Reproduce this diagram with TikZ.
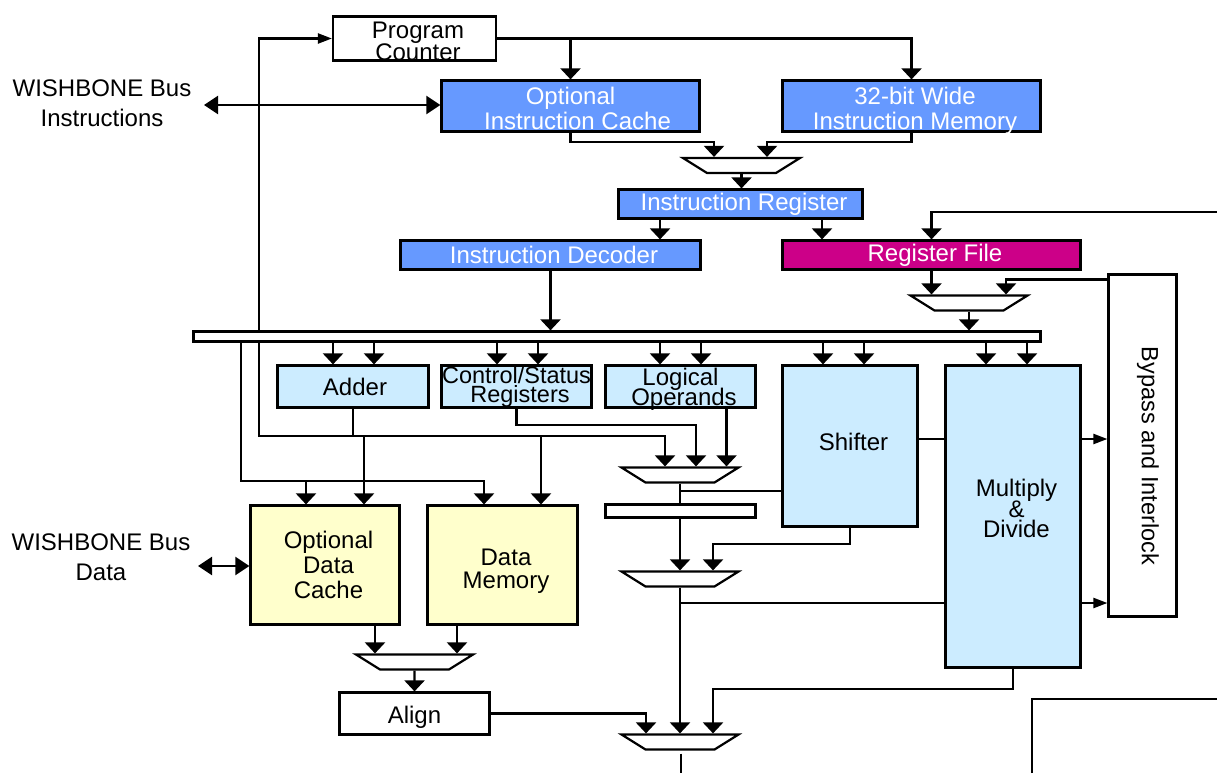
\documentclass[tikz,border=0pt]{standalone}
\usepackage{fontspec}
\setmainfont{Liberation Sans}
\usetikzlibrary{arrows.meta,shapes.geometric}
\definecolor{colBlue}{HTML}{6699FF}
\definecolor{colPink}{HTML}{CC0088}
\definecolor{colSky}{HTML}{CCECFF}
\definecolor{colCream}{HTML}{FFFFCC}
\newcommand{\labelfont}[2][24]{\fontsize{#1}{#2}\selectfont\lineskiplimit=-50pt}
% small nudges of a text inside its box
\newcommand{\rt}{\hspace*{7pt}}
\newcommand{\dn}[1]{\rule{0pt}{#1}}
\newcommand{\upby}[1]{\rule[-#1]{0pt}{#1}}
\tikzset{
  block/.style={draw,line width=2.2pt,rectangle,inner sep=0pt,align=center,font=\labelfont{25}},
  hotblock/.style={block,fill=colBlue,text=white},
  unitblock/.style={block,fill=colSky},
  memblock/.style={block,fill=colCream},
  muxer/.style={draw,line width=2.2pt,fill=white,trapezium,shape border rotate=180,
    trapezium angle=32,inner sep=0pt,text width=69pt,text height=15pt,text depth=0pt},
  wire/.style={line width=2.2pt},
  arrow/.style={wire,-{Triangle[width=20pt,length=11pt]}},
  smallarrow/.style={wire,-{Triangle[width=10pt,length=14pt]}},
  twoway/.style={wire,{Triangle[width=18pt,length=14pt]}-{Triangle[width=18pt,length=14pt]}},
  caption/.style={align=center,inner sep=0pt,font=\labelfont{30}},
}
\begin{document}
\begin{tikzpicture}[x=1pt,y=-1pt]
  \useasboundingbox (0,0) rectangle (1217,773);

  % fetch stage
  \node[block,minimum width=163,minimum height=44,font=\labelfont{22}] (pc) at (414.5,38.5) {\dn{21.5pt}\rt Program\\\rt Counter};
  \node[hotblock,minimum width=258,minimum height=51] (icache) at (570.5,106) {\dn{22.5pt}Optional\\\rt\rt Instruction Cache};
  \node[hotblock,minimum width=258,minimum height=51] (imem) at (911.5,106) {\dn{22.5pt}\rt 32-bit Wide\\\rt\smash{Instruction Memory}};
  \node[muxer] (mux1) at (741.5,165.5) {};
  \node[hotblock,minimum width=244,minimum height=29] (ir) at (740.5,204) {\rt Instruction Register};

  % decode stage
  \node[hotblock,minimum width=300,minimum height=29] (decoder) at (550.5,255) {\rt Instruction Decoder};
  \node[block,fill=colPink,text=white,minimum width=298,minimum height=29] (regfile) at (931.5,255) {\rt Register File};
  \node[muxer] (mux2) at (969,303) {};
  \node[block,minimum width=847,minimum height=10] (bus) at (617,336.5) {};

  % execute stage
  \node[unitblock,minimum width=151,minimum height=42] (adder) at (353,386.5) {\hspace*{4pt}Adder};
  \node[unitblock,minimum width=150,minimum height=42,font={\labelfont[23.5]{19}}] (csr) at (516.5,386.5) {Control/Status\\\rt Registers};
  \node[unitblock,minimum width=150,minimum height=42,font=\labelfont{20}] (logic) at (680.5,386.5) {Logical\\\rt\smash{Operands}};
  \node[unitblock,minimum width=135,minimum height=161] (shifter) at (850,446) {\rt Shifter\upby{8pt}};
  \node[unitblock,minimum width=135,minimum height=302,font=\labelfont{20.5}] (mult) at (1013,516.5) {\rt Multiply\\\rt \&\\\rt Divide\upby{16pt}};
  \node[block,minimum width=68,minimum height=342] (bypass) at (1142.5,445.5) {};
  \node[rotate=-90,inner sep=0pt,font={\labelfont[23.5]{25}}] (bypasstext) at (1148,456) {Bypass and Interlock};

  % memory stage
  \node[memblock,minimum width=149,minimum height=119] (dcache) at (325,565) {\rt Optional\\\rt Data\\\rt Cache};
  \node[memblock,minimum width=150,minimum height=119,font=\labelfont{23}] (dmem) at (502.5,565) {\dn{29.5pt}\rt Data\\\rt Memory};
  \node[muxer] (mux3) at (414.5,662) {};
  \node[block,minimum width=150,minimum height=42] (align) at (414.5,713.5) {\dn{25.5pt}Align};

  % result muxes
  \node[muxer] (mux4) at (680,475) {};
  \node[block,minimum width=150,minimum height=13] (latch) at (680.5,511) {};
  \node[muxer] (mux5) at (680,579) {};
  \node[muxer] (mux6) at (680,742) {};

  % outside labels
  \node[caption] (wbi) at (102,103) {WISHBONE Bus\\Instructions};
  \node[caption] (wbd) at (101,557) {WISHBONE Bus\\Data};

  % free ends
  \coordinate (wbiend) at (204,105);
  \coordinate (wbdend) at (198,566);
  \coordinate (regin) at (1217,212);
  \coordinate (resout) at (681,773);
  \coordinate (feedback) at (259,436);
  \coordinate (dataline) at (241,481);
  \coordinate (cornerA) at (1032,773);
  \coordinate (cornerB) at (1217,699);

  % program counter and instruction fetch
  \draw[arrow] (pc.east) -| (imem.north);
  \draw[arrow] (pc.east) -| (icache.north);
  \draw[smallarrow] (feedback |- bus.north) |- (pc.west);
  \draw[twoway] (wbiend) -- (wbiend -| icache.west);
  \draw[arrow] (icache.south) -- ++(0,9) -| ([xshift=-27.5pt]mux1.north);
  \draw[arrow] (imem.south) -- ++(0,9) -| ([xshift=25.5pt]mux1.north);
  \draw[arrow] (mux1.south) -- (mux1.south |- ir.north);

  % decode and operands
  \draw[arrow] ([xshift=-80.5pt]ir.south) -- ([xshift=-80.5pt]ir.south |- decoder.north);
  \draw[arrow] ([xshift=81.5pt]ir.south) -- ([xshift=81.5pt]ir.south |- regfile.north);
  \draw[arrow] (regin) -| (regfile.north);
  \draw[arrow] (regfile.south) -- (regfile.south |- mux2.north);
  \draw[arrow] ([yshift=-6pt]bypass.north west) -| ([xshift=37pt]mux2.north);
  \draw[arrow] (mux2.south) -- (mux2.south |- bus.north);
  \draw[arrow] (decoder.south) -- (decoder.south |- bus.north);

  % bus into the execution units
  \foreach \unit/\left/\right in {adder/-20/21, csr/-19.5/21.5, logic/-20.5/20.5, shifter/-27/14, mult/-27/14} {
    \draw[arrow] ([xshift=\left pt]\unit.north |- bus.south) -- ([xshift=\left pt]\unit.north);
    \draw[arrow] ([xshift=\right pt]\unit.north |- bus.south) -- ([xshift=\right pt]\unit.north);
  }

  % results and memory access
  \draw[arrow] (feedback |- bus.south) -- (feedback) -| ([xshift=-15pt]mux4.north);
  \draw[wire] (adder.south) -- (adder.south |- feedback);
  \draw[arrow] ([xshift=39pt]dcache.north |- feedback) -- ([xshift=39pt]dcache.north);
  \draw[arrow] ([xshift=38.5pt]dmem.north |- feedback) -- ([xshift=38.5pt]dmem.north);
  \draw[arrow] (dataline |- bus.south) -- (dataline) -| ([xshift=-18.5pt]dmem.north);
  \draw[arrow] ([xshift=-19pt]dcache.north |- dataline) -- ([xshift=-19pt]dcache.north);
  \draw[arrow] (csr.south) -- ++(0,16) -| ([xshift=16pt]mux4.north);
  \draw[arrow] ([xshift=46pt]logic.south) -- ([xshift=46pt]logic.south |- mux4.north);
  \draw[wire] ([yshift=7pt]shifter.east) -- ([yshift=7pt]shifter.east -| mult.west);

  % result path
  \draw[wire] (mux4.south) -- (mux4.south |- latch.north);
  \draw[wire] ([yshift=-45pt]shifter.west) -- ([yshift=-45pt]shifter.west -| mux4.south);
  \draw[arrow] (mux5.north |- latch.south) -- (mux5.north);
  \draw[arrow] (shifter.south) -- ++(0,16) -| ([xshift=33pt]mux5.north);
  \draw[arrow] (mux5.south) -- (mux6.north);
  \draw[wire] ([yshift=-86.5pt]mult.west) -- ([yshift=-86.5pt]mult.west -| mux5.south);
  \draw[arrow] (mult.south) -- ++(0,20) -| ([xshift=33pt]mux6.north);
  \draw[arrow] (align.east) -| ([xshift=-34pt]mux6.north);
  \draw[smallarrow] ([yshift=77.5pt]mult.east) -- ([yshift=77.5pt]mult.east -| bypass.west);
  \draw[smallarrow] ([yshift=-86.5pt]mult.east) -- ([yshift=-86.5pt]mult.east -| bypass.west);
  \draw[wire] (resout |- mux6.south) ++(0,3) -- (resout);

  % memory side
  \draw[arrow] ([xshift=50pt]dcache.south) -- ([xshift=50pt]dcache.south |- mux3.north);
  \draw[arrow] ([xshift=-45.5pt]dmem.south) -- ([xshift=-45.5pt]dmem.south |- mux3.north);
  \draw[arrow] (mux3.south) -- (align.north);
  \draw[twoway] (wbdend) -- (wbdend -| dcache.west);

  % cut off box in the corner
  \draw[wire] (cornerA) |- (cornerB);
\end{tikzpicture}
\end{document}
